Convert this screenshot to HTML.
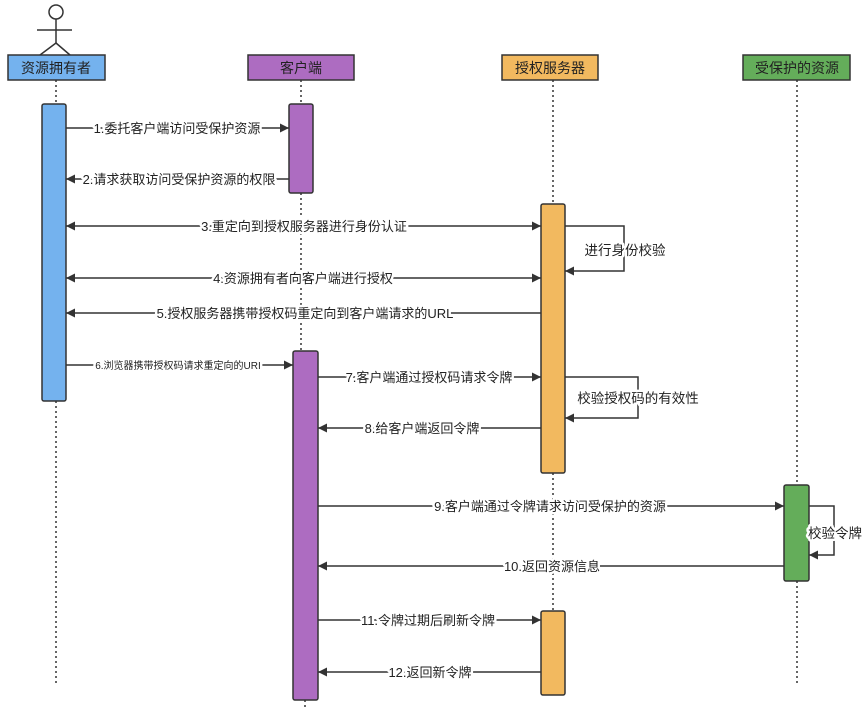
<!DOCTYPE html>
<html><head><meta charset="utf-8"><style>
html,body{margin:0;padding:0;background:#fff;}
svg{display:block;}
text{font-family:"Liberation Sans","Noto Sans CJK SC",sans-serif;fill:#222;}
.lb text{stroke:#fff;stroke-width:5px;paint-order:stroke;stroke-linejoin:round;}
</style></head><body>
<svg width="866" height="708" viewBox="0 0 866 708" xmlns="http://www.w3.org/2000/svg">
<defs>
<marker id="ar" viewBox="0 0 10 10" refX="10" refY="5" markerWidth="11" markerHeight="9" markerUnits="userSpaceOnUse" orient="auto-start-reverse"><path d="M0,0 L10,5 L0,10 z" fill="#333"/></marker>
</defs>
<g stroke="#333" stroke-width="1.5" stroke-dasharray="2,3" fill="none">
<line x1="56" y1="80" x2="56" y2="104"/><line x1="56" y1="401" x2="56" y2="685"/>
<line x1="301" y1="80" x2="301" y2="104"/><line x1="301" y1="193" x2="301" y2="351"/><line x1="305" y1="700" x2="305" y2="708"/>
<line x1="553" y1="80" x2="553" y2="204"/><line x1="553" y1="473" x2="553" y2="611"/>
<line x1="797" y1="80" x2="797" y2="485"/><line x1="797" y1="581" x2="797" y2="685"/>
</g>
<g stroke="#333" stroke-width="1.5" fill="none">
<circle cx="56" cy="12" r="7" fill="#fff"/>
<line x1="56" y1="19" x2="56" y2="43"/>
<line x1="37" y1="30" x2="72" y2="30"/>
<line x1="56" y1="43" x2="40" y2="55"/><line x1="56" y1="43" x2="70" y2="55"/>
</g>
<g stroke="#333" stroke-width="1.5">
<rect x="8" y="55" width="97" height="25" fill="#74b2ee"/>
<rect x="248" y="55" width="106" height="25" fill="#ad6cc1"/>
<rect x="502" y="55" width="96" height="25" fill="#f2b95f"/>
<rect x="743" y="55" width="107" height="25" fill="#64ad5a"/>
</g>
<g font-size="14" text-anchor="middle">
<text x="56" y="73">资源拥有者</text>
<text x="301" y="73">客户端</text>
<text x="550" y="73">授权服务器</text>
<text x="797" y="73">受保护的资源</text>
</g>
<g stroke="#333" stroke-width="1.5">
<rect x="42" y="104" width="24" height="297" rx="2" fill="#74b2ee"/>
<rect x="289" y="104" width="24" height="89" rx="2" fill="#ad6cc1"/>
<rect x="293" y="351" width="25" height="349" rx="2" fill="#ad6cc1"/>
<rect x="541" y="204" width="24" height="269" rx="2" fill="#f2b95f"/>
<rect x="541" y="611" width="24" height="84" rx="2" fill="#f2b95f"/>
<rect x="784" y="485" width="25" height="96" rx="2" fill="#64ad5a"/>
</g>
<g stroke="#333" stroke-width="1.5" fill="none">
<line x1="66" y1="128" x2="289" y2="128" marker-end="url(#ar)"/>
<line x1="289" y1="179" x2="66" y2="179" marker-end="url(#ar)"/>
<line x1="66" y1="226" x2="541" y2="226" marker-start="url(#ar)" marker-end="url(#ar)"/>
<line x1="66" y1="278" x2="541" y2="278" marker-start="url(#ar)" marker-end="url(#ar)"/>
<line x1="541" y1="313" x2="66" y2="313" marker-end="url(#ar)"/>
<line x1="66" y1="365" x2="293" y2="365" marker-end="url(#ar)"/>
<line x1="318" y1="377" x2="541" y2="377" marker-end="url(#ar)"/>
<line x1="541" y1="428" x2="318" y2="428" marker-end="url(#ar)"/>
<line x1="318" y1="506" x2="784" y2="506" marker-end="url(#ar)"/>
<line x1="784" y1="566" x2="318" y2="566" marker-end="url(#ar)"/>
<line x1="318" y1="620" x2="541" y2="620" marker-end="url(#ar)"/>
<line x1="541" y1="672" x2="318" y2="672" marker-end="url(#ar)"/>
<polyline points="565,226 624,226 624,271 565,271" marker-end="url(#ar)"/>
<polyline points="565,377 638,377 638,418 565,418" marker-end="url(#ar)"/>
<polyline points="809,506 834,506 834,555 809,555" marker-end="url(#ar)"/>
</g>
<g class="lb" font-size="13" text-anchor="middle">
<text x="177" y="133">1.委托客户端访问受保护资源</text>
<text x="179" y="184">2.请求获取访问受保护资源的权限</text>
<text x="304" y="231">3.重定向到授权服务器进行身份认证</text>
<text x="303" y="283">4.资源拥有者向客户端进行授权</text>
<text x="305" y="318">5.授权服务器携带授权码重定向到客户端请求的URL</text>
<text x="178" y="369" font-size="10">6.浏览器携带授权码请求重定向的URI</text>
<text x="429" y="382">7.客户端通过授权码请求令牌</text>
<text x="422" y="433">8.给客户端返回令牌</text>
<text x="550" y="511">9.客户端通过令牌请求访问受保护的资源</text>
<text x="552" y="571">10.返回资源信息</text>
<text x="428" y="625">11.令牌过期后刷新令牌</text>
<text x="430" y="677">12.返回新令牌</text>
<text x="625" y="255" font-size="13.5">进行身份校验</text>
<text x="638" y="403" font-size="13.5">校验授权码的有效性</text>
<text x="835" y="538" font-size="13.5">校验令牌</text>
</g>
</svg>
</body></html>
